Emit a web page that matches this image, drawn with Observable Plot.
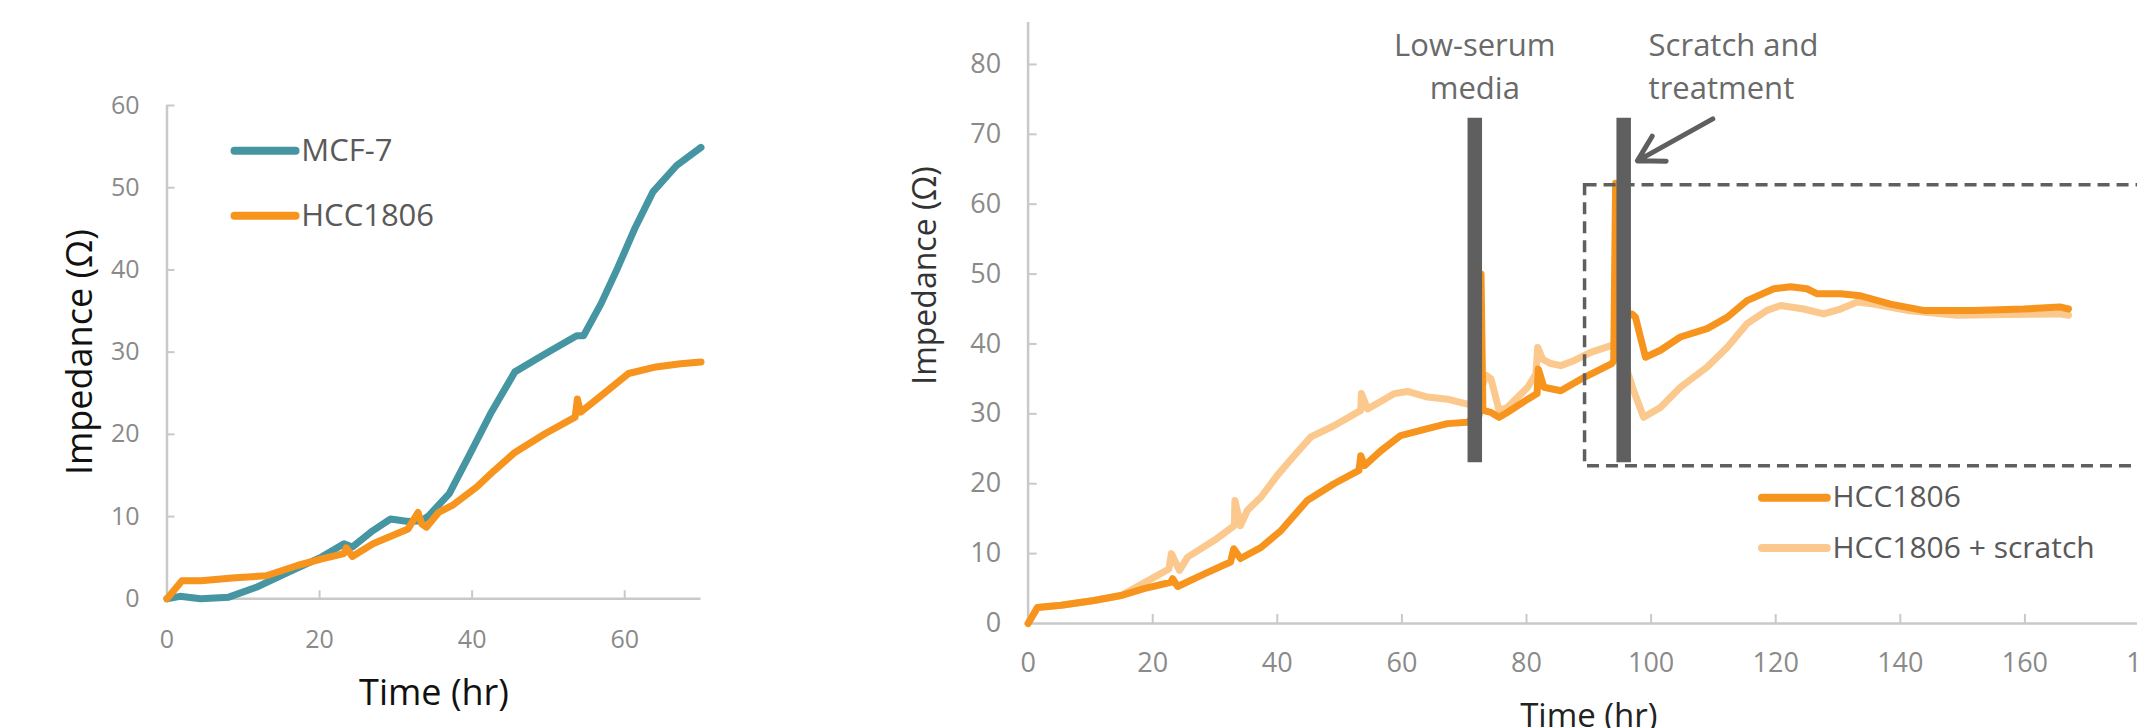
<!DOCTYPE html>
<html><head><meta charset="utf-8">
<script src="https://cdn.jsdelivr.net/npm/d3@7"></script>
<script src="https://cdn.jsdelivr.net/npm/@observablehq/plot@0.6"></script>
<style>
html,body{margin:0;padding:0;background:#fff;overflow:hidden;}
#wrap{position:relative;width:2137px;height:728px;overflow:hidden;background:#fff;}
#left{position:absolute;left:0;top:0;width:880px;height:728px;}
#right{position:absolute;left:880px;top:0;width:1290px;height:728px;}
svg{display:block;max-width:none !important;}
</style></head><body>
<div id="wrap"><div id="left"></div><div id="right"></div></div>
<script>
// ---------- Left panel data ----------
const leftXTicks = [0, 20, 40, 60];
const leftYTicks = [0, 10, 20, 30, 40, 50, 60];
const leftSeries = ["MCF-7", "HCC1806"];
const mcfTime = [0,1.7,4.4,8.1,11.7,15.8,20.3,23.2,24.3,27.0,29.3,31.6,33.4,34.3,37.0,39.7,42.4,45.6,49.6,53.7,54.6,56.9,59.1,61.4,63.7,66.8,70];
const mcfImp  = [0,0.3,0,0.2,1.4,3.2,5.1,6.7,6.3,8.3,9.7,9.4,9.5,10.1,12.8,17.6,22.5,27.6,29.8,32.0,32.0,35.9,40.3,45.2,49.5,52.7,54.9];
const hccTime = [0,1.96,4.45,8.97,13.0,17.1,20.3,23.2,23.5,24.3,27.0,31.6,32.9,33.4,34.0,35.6,37.4,40.6,42.9,45.6,49.6,53.5,53.8,54.2,56.9,60.5,64.1,67.3,70];
const hccImp  = [0,2.2,2.2,2.55,2.8,4.05,4.85,5.5,6.2,5.15,6.7,8.5,10.5,9.1,8.7,10.5,11.35,13.6,15.6,17.8,20.1,22.1,24.3,22.7,24.7,27.4,28.2,28.6,28.8];

// ---------- Right panel data ----------
const rightXTicks = [0, 20, 40, 60, 80, 100, 120, 140, 160, 180];
const rightYTicks = [0, 10, 20, 30, 40, 50, 60, 70, 80];
const rightSeries = ["HCC1806", "HCC1806 + scratch"];
const ctlTime = [0,1.5,5.3,10.6,14.9,18.6,22.9,23.2,24.0,28.3,32.5,33.0,34.1,37.4,40.6,44.8,49.1,53.1,53.4,54.0,56.6,59.8,64.1,67.3,70.5,72.4,72.7,73.0,74.3,75.6,76.9,80.2,81.7,81.9,82.8,85.5,89.2,93.7,94.0,94.3,94.6,96.9,97.5,99.1,101.5,104.7,109.0,112.2,115.4,119.7,122.4,125.0,126.6,130.4,133.6,138.4,143.7,151.8,159.8,165.6,167.0];
const ctlImp  = [0,2.3,2.6,3.3,4.0,5.0,5.9,6.4,5.3,7.1,8.8,10.7,9.3,10.9,13.3,17.6,20.0,21.9,24.0,22.6,24.7,26.9,27.9,28.6,28.8,29.8,50,30.5,30.2,29.5,30.2,32.1,32.9,36.4,33.8,33.3,35.2,37.2,37.6,63,44,44.3,43.8,38.1,39.1,41.0,42.2,43.8,46.2,47.9,48.2,47.9,47.2,47.2,46.9,45.7,44.8,44.8,45.0,45.3,45.0];
const scrTime = [0,1.5,5.3,10.6,14.9,15.95,20.2,22.6,23.0,24.3,25.6,29.9,33.1,33.2,34.1,35.2,37.4,40.0,42.7,45.4,49.1,53.4,53.5,54.5,58.8,60.9,64.1,67.3,70.5,72.0,73.5,74.3,75.6,76.9,80.2,81.5,81.8,82.6,83.9,85.5,87.6,90.3,93.7,95.5,97.2,98.8,101.5,104.7,109.0,112.2,115.4,118.6,120.8,124.5,127.7,130.4,133.1,135.7,141.1,149.1,157.1,165.6,167.0];
const scrImp  = [0,2.3,2.6,3.3,4.0,4.5,6.6,7.8,10.0,7.6,9.5,11.9,14.0,17.6,14.0,16.2,18.1,21.2,24.0,26.7,28.3,30.5,32.9,30.7,32.9,33.2,32.4,32.1,31.4,31.5,35.5,35.0,30.5,30.9,33.8,35.7,39.5,37.8,37.2,36.9,37.6,38.8,39.8,38,33.3,29.5,30.9,33.8,36.7,39.5,42.9,44.8,45.5,45.0,44.3,45.0,46.0,45.7,44.8,44.1,44.2,44.3,44.1];
const eventTimes  = [71.7, 95.6];
const eventLabels = ["Low-serum\nmedia", "Scratch and\ntreatment"];

// ---------- styling ----------
const TEAL = "#4596a2", ORANGE = "#f7941d", LIGHT = "#fbc88e";
const AXIS = "#c9c9c9", TICKTXT = "#8a8a8a", LEGTXT = "#595959", BARC = "#5f5f5f";
const FONT = "'Open Sans', 'Segoe UI', sans-serif";

const toRows = (ts, vs) => ts.map((t, i) => ({t, v: vs[i]}));

// ---------- Left plot ----------
const leftPlot = Plot.plot({
  width: 880, height: 728,
  marginLeft: 166.5, marginRight: 179.5, marginTop: 105, marginBottom: 129.7,
  x: {domain: [0, 70]}, y: {domain: [0, 60]},
  style: {fontFamily: FONT, background: "#fff", overflow: "visible", maxWidth: "none"},
  marks: [
    Plot.ruleY([0], {stroke: AXIS, strokeWidth: 2.5}),
    Plot.ruleX([0], {stroke: AXIS, strokeWidth: 2.5}),
    Plot.ruleX(leftXTicks.slice(1), {x: d => d, y1: 0, y2: 0, insetTop: -8, stroke: AXIS, strokeWidth: 2}),
    Plot.ruleY(leftYTicks.slice(1), {y: d => d, x1: 0, x2: 0, insetRight: -8, stroke: AXIS, strokeWidth: 2}),
    Plot.axisX({ticks: leftXTicks, tickSize: 0, tickPadding: 31, fontSize: 25, color: TICKTXT, label: null}),
    Plot.axisY({ticks: leftYTicks, tickSize: 0, tickPadding: 27.5, fontSize: 25, color: TICKTXT, label: null}),
    Plot.line(toRows(mcfTime, mcfImp), {x: "t", y: "v", stroke: TEAL, strokeWidth: 7, strokeLinejoin: "round", strokeLinecap: "round"}),
    Plot.line(toRows(hccTime, hccImp), {x: "t", y: "v", stroke: ORANGE, strokeWidth: 7, strokeLinejoin: "round", strokeLinecap: "round"}),
    // legend
    Plot.link([leftSeries[0]], {x1: 8.85, x2: 16.85, y1: 54.5, y2: 54.5, stroke: TEAL, strokeWidth: 8, strokeLinecap: "round"}),
    Plot.link([leftSeries[1]], {x1: 8.85, x2: 16.85, y1: 46.6, y2: 46.6, stroke: ORANGE, strokeWidth: 8, strokeLinecap: "round"}),
    Plot.text([leftSeries[0]], {x: 17.6, y: 54.5, text: d => d, textAnchor: "start", fontSize: 31, fill: LEGTXT}),
    Plot.text([leftSeries[1]], {x: 17.6, y: 46.6, text: d => d, textAnchor: "start", fontSize: 31, fill: LEGTXT}),
    // axis titles
    Plot.text(["Impedance (Ω)"], {text: d => d, frameAnchor: "left", dx: -75.5, rotate: -90, textAnchor: "middle", lineAnchor: "bottom", fontSize: 36, fill: "#111"}),
    Plot.text(["Time (hr)"], {text: d => d, frameAnchor: "bottom", dy: 105.7, textAnchor: "middle", lineAnchor: "bottom", fontSize: 36, fill: "#111"})
  ]
});
document.getElementById("left").append(leftPlot);

// ---------- Right plot ----------
const rightPlot = Plot.plot({
  width: 1290, height: 728,
  marginLeft: 147.6, marginRight: 21, marginTop: 22, marginBottom: 105,
  x: {domain: [0, 180]}, y: {domain: [0, 86]},
  style: {fontFamily: FONT, background: "#fff", overflow: "visible", maxWidth: "none"},
  marks: [
    Plot.ruleY([0], {stroke: AXIS, strokeWidth: 2.5}),
    Plot.ruleX([0], {stroke: AXIS, strokeWidth: 2.5}),
    Plot.ruleX(rightXTicks.slice(1), {x: d => d, y1: 0, y2: 0, insetTop: -9, stroke: AXIS, strokeWidth: 2}),
    Plot.ruleY(rightYTicks.slice(1), {y: d => d, x1: 0, x2: 0, insetRight: -9, stroke: AXIS, strokeWidth: 2}),
    Plot.axisX({ticks: rightXTicks, tickSize: 0, tickPadding: 29, fontSize: 27, color: TICKTXT, label: null}),
    Plot.axisY({ticks: rightYTicks, tickSize: 0, tickPadding: 27, fontSize: 27, color: TICKTXT, label: null}),
    Plot.line(toRows(scrTime, scrImp), {x: "t", y: "v", stroke: LIGHT, strokeWidth: 7, strokeLinejoin: "round", strokeLinecap: "round"}),
    Plot.line(toRows(ctlTime, ctlImp), {x: "t", y: "v", stroke: ORANGE, strokeWidth: 7, strokeLinejoin: "round", strokeLinecap: "round"}),
    // event bars
    Plot.ruleX(eventTimes, {x: d => d, y1: 23, y2: 72.3, stroke: BARC, strokeWidth: 14.5}),
    // event labels
    Plot.text([eventLabels[0]], {text: d => d, x: eventTimes[0], y: 75.1, lineAnchor: "bottom", lineHeight: 1.39, fontSize: 31, fill: "#6a6a6a"}),
    Plot.text([eventLabels[1]], {text: d => d, x: 99.6, y: 75.1, textAnchor: "start", lineAnchor: "bottom", lineHeight: 1.39, fontSize: 31, fill: "#6a6a6a"}),
    // arrow
    Plot.arrow([eventLabels[1]], {x1: 109.9, y1: 72.2, x2: 97.8, y2: 66.2, stroke: BARC, strokeWidth: 5, headLength: 10}),
    // dashed box
    Plot.rect([0], {x1: 89.4, x2: 190, y1: 22.5, y2: 62.7, fill: "none", stroke: BARC, strokeWidth: 3.5, strokeDasharray: "12,7"}),
    // legend
    Plot.link([rightSeries[0]], {x1: 117.8, x2: 128.2, y1: 18.0, y2: 18.0, stroke: ORANGE, strokeWidth: 8, strokeLinecap: "round"}),
    Plot.link([rightSeries[1]], {x1: 117.8, x2: 128.2, y1: 10.8, y2: 10.8, stroke: LIGHT, strokeWidth: 8, strokeLinecap: "round"}),
    Plot.text([rightSeries[0]], {x: 129.1, y: 18.0, text: d => d, textAnchor: "start", fontSize: 30, fill: LEGTXT}),
    Plot.text([rightSeries[1]], {x: 129.1, y: 10.8, text: d => d, textAnchor: "start", fontSize: 30, fill: LEGTXT}),
    // axis titles
    Plot.text(["Impedance (Ω)"], {text: d => d, frameAnchor: "left", dx: -92.6, dy: -47.5, rotate: -90, textAnchor: "middle", lineAnchor: "bottom", fontSize: 32, fill: "#333"}),
    Plot.text(["Time (hr)"], {text: d => d, frameAnchor: "bottom", dy: 103, textAnchor: "middle", lineAnchor: "bottom", fontSize: 33, fill: "#222"})
  ]
});
document.getElementById("right").append(rightPlot);
</script>
</body></html>
